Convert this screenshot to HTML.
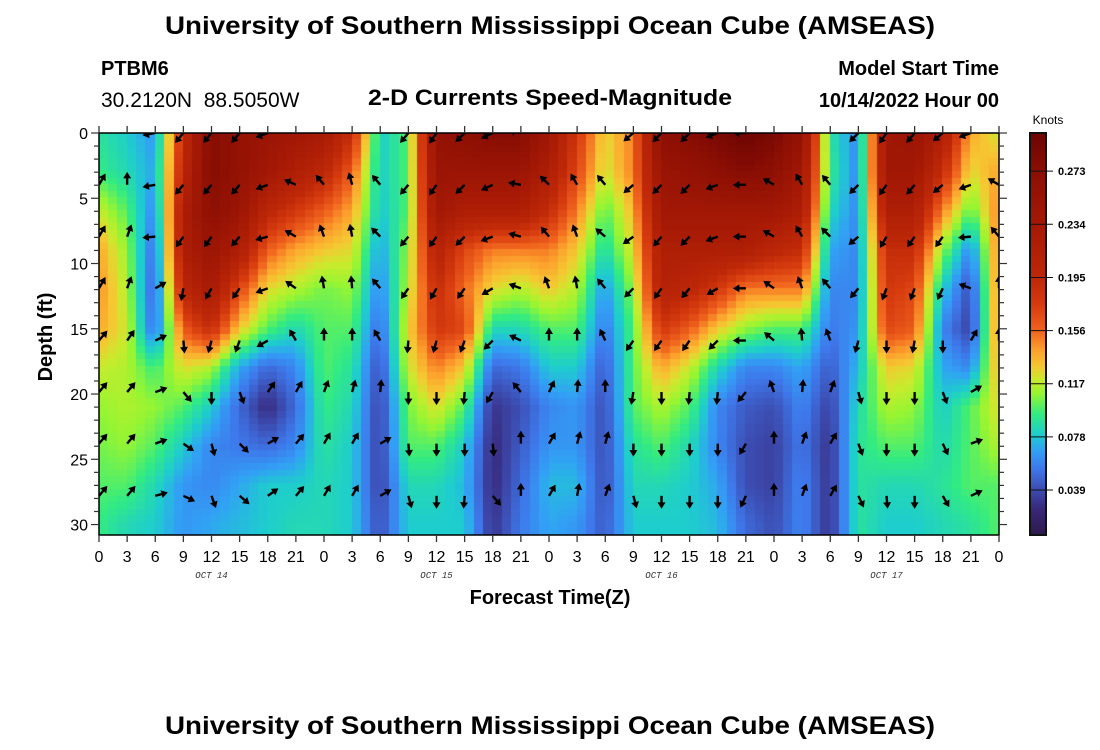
<!DOCTYPE html>
<html><head><meta charset="utf-8">
<style>
html,body{margin:0;padding:0;background:#fff;}
#wrap{position:relative;width:1100px;height:750px;overflow:hidden;font-family:"Liberation Sans",sans-serif;}
canvas{position:absolute;}
svg{position:absolute;left:0;top:0;}
</style></head>
<body>
<div id="wrap">
<canvas id="heat" width="900" height="402" style="left:99px;top:133px"></canvas>
<canvas id="cbar" width="16" height="402" style="left:1030px;top:133px"></canvas>
<svg id="svg" width="1100" height="750" xmlns="http://www.w3.org/2000/svg">
<text x="550" y="34" text-anchor="middle" font-size="25" font-weight="bold" textLength="770" lengthAdjust="spacingAndGlyphs">University of Southern Mississippi Ocean Cube (AMSEAS)</text>
<text x="550" y="734" text-anchor="middle" font-size="25" font-weight="bold" textLength="770" lengthAdjust="spacingAndGlyphs">University of Southern Mississippi Ocean Cube (AMSEAS)</text>
<text x="101" y="75" font-size="20" font-weight="bold">PTBM6</text>
<text x="101" y="107" font-size="21" xml:space="preserve">30.2120N  88.5050W</text>
<text x="550" y="105" text-anchor="middle" font-size="22" font-weight="bold" textLength="364" lengthAdjust="spacingAndGlyphs">2-D Currents Speed-Magnitude</text>
<text x="999" y="75" text-anchor="end" font-size="20" font-weight="bold">Model Start Time</text>
<text x="999" y="107" text-anchor="end" font-size="20" font-weight="bold">10/14/2022 Hour 00</text>
<text transform="translate(52,337) rotate(-90)" text-anchor="middle" font-size="20" font-weight="bold">Depth (ft)</text>
<text x="550" y="604" text-anchor="middle" font-size="20" font-weight="bold">Forecast Time(Z)</text>
<text x="1048" y="124" text-anchor="middle" font-size="12">Knots</text>
<g id="arrows"></g>
<g id="axes"></g>
</svg>
</div>
<script>
// ---- data ----
const hours = [0,3,6,9,12,15,18,21,24,27,30,33,36,39,42,45,48,51,54,57,60,63,66,69,72,75,78,81,84,87,90,93,96];
const depths = [0,3,6,9,12,15,18,21,24,27,30];
const speedByHour = [
[0.09,0.095,0.12,0.14,0.145,0.14,0.12,0.11,0.105,0.1,0.095],
[0.08,0.085,0.1,0.11,0.115,0.12,0.115,0.115,0.11,0.1,0.085],
[0.065,0.07,0.06,0.05,0.045,0.05,0.095,0.11,0.1,0.085,0.08],
[0.19,0.2,0.22,0.22,0.2,0.16,0.125,0.1,0.08,0.065,0.065],
[0.28,0.28,0.27,0.25,0.23,0.19,0.115,0.08,0.06,0.06,0.07],
[0.26,0.26,0.25,0.22,0.17,0.13,0.07,0.05,0.055,0.07,0.075],
[0.25,0.24,0.2,0.16,0.125,0.1,0.05,0.025,0.05,0.08,0.08],
[0.24,0.22,0.18,0.14,0.115,0.085,0.06,0.05,0.06,0.08,0.085],
[0.23,0.2,0.16,0.13,0.105,0.1,0.1,0.095,0.09,0.085,0.085],
[0.19,0.16,0.14,0.125,0.11,0.1,0.09,0.085,0.08,0.08,0.08],
[0.08,0.08,0.078,0.068,0.06,0.05,0.04,0.035,0.035,0.035,0.04],
[0.1,0.1,0.1,0.11,0.115,0.125,0.12,0.105,0.1,0.085,0.08],
[0.26,0.25,0.24,0.21,0.19,0.18,0.15,0.125,0.1,0.085,0.08],
[0.27,0.25,0.22,0.17,0.155,0.17,0.13,0.1,0.08,0.075,0.08],
[0.28,0.25,0.22,0.15,0.125,0.085,0.05,0.03,0.025,0.025,0.03],
[0.28,0.25,0.22,0.15,0.115,0.085,0.055,0.04,0.045,0.05,0.055],
[0.24,0.22,0.19,0.15,0.13,0.1,0.08,0.06,0.065,0.075,0.07],
[0.18,0.17,0.15,0.13,0.115,0.1,0.08,0.065,0.065,0.075,0.065],
[0.125,0.12,0.1,0.085,0.065,0.055,0.045,0.04,0.04,0.04,0.045],
[0.15,0.15,0.135,0.125,0.11,0.1,0.1,0.1,0.09,0.085,0.08],
[0.27,0.25,0.24,0.22,0.21,0.18,0.14,0.115,0.1,0.085,0.08],
[0.28,0.26,0.24,0.22,0.2,0.16,0.12,0.1,0.085,0.08,0.08],
[0.29,0.27,0.24,0.22,0.18,0.13,0.085,0.06,0.06,0.07,0.075],
[0.3,0.28,0.24,0.22,0.15,0.11,0.06,0.045,0.04,0.04,0.05],
[0.29,0.27,0.24,0.2,0.15,0.1,0.06,0.04,0.035,0.035,0.04],
[0.26,0.24,0.22,0.19,0.15,0.1,0.07,0.06,0.055,0.06,0.06],
[0.09,0.095,0.085,0.07,0.06,0.055,0.045,0.035,0.03,0.03,0.03],
[0.06,0.06,0.06,0.06,0.06,0.065,0.075,0.085,0.09,0.09,0.09],
[0.24,0.24,0.22,0.19,0.18,0.17,0.13,0.115,0.1,0.085,0.08],
[0.25,0.24,0.22,0.19,0.17,0.16,0.125,0.11,0.1,0.085,0.08],
[0.22,0.19,0.15,0.11,0.08,0.06,0.07,0.08,0.085,0.09,0.085],
[0.14,0.125,0.1,0.06,0.04,0.035,0.06,0.1,0.1,0.1,0.09],
[0.12,0.14,0.15,0.15,0.15,0.15,0.14,0.125,0.115,0.1,0.1]
];
const arrowDepths = [0,3.97,7.94,11.9,15.9,19.85,23.8,27.8];
const arrowBearings = [
[30,0,260,220,220,220,250,295,320,345,320,220,215,225,245,280,315,330,320,230,225,225,250,270,300,330,320,225,215,220,230,250,300],
[30,0,260,220,220,220,250,295,320,345,320,220,215,225,245,280,315,330,320,230,225,225,250,270,300,330,320,225,215,220,230,250,300],
[30,20,265,215,215,220,255,300,340,350,315,220,215,225,250,285,320,340,310,235,220,225,250,270,300,330,315,230,210,215,215,265,320],
[30,20,60,190,210,215,250,305,350,355,320,215,210,215,240,290,340,350,320,225,215,220,240,270,305,340,320,220,200,200,205,290,0],
[40,35,65,175,195,200,240,330,0,0,330,185,195,200,225,295,0,0,335,215,215,215,225,270,310,355,340,195,180,190,180,30,0],
[40,40,70,140,180,160,35,30,20,15,5,180,180,185,210,320,25,5,0,190,180,185,185,220,340,5,20,165,180,180,160,60,30],
[40,40,70,125,165,135,60,40,30,30,60,175,180,180,175,0,30,15,15,180,180,180,180,210,0,20,30,160,180,180,155,70,30],
[40,40,75,115,160,130,55,40,30,30,60,165,180,185,140,0,30,10,20,165,180,180,180,205,0,20,30,155,175,180,150,65,30]
];
const xTickLabels = ["0","3","6","9","12","15","18","21","0","3","6","9","12","15","18","21","0","3","6","9","12","15","18","21","0","3","6","9","12","15","18","21","0"];
const dayLabels = ["OCT 14","OCT 15","OCT 16","OCT 17"];
const yTickValues = [0,5,10,15,20,25,30];
const cbarTicks = [0.039,0.078,0.117,0.156,0.195,0.234,0.273];

// ---- scales ----
const X0=99, X1=999, Y0=133, Y1=535, HMAX=96, DMAX=30.8;
const xs = h => X0 + (h/HMAX)*(X1-X0);
const ys = d => Y0 + (d/DMAX)*(Y1-Y0);
const VMIN=0.006, VMAX=0.301;
const cy = v => Y0 + (VMAX-v)/(VMAX-VMIN)*(Y1-Y0);
const stops=[[0.006,[45,26,74]],[0.025,[56,40,120]],[0.039,[60,75,175]],[0.055,[62,120,235]],[0.068,[50,160,245]],[0.08,[30,205,205]],[0.095,[50,235,130]],[0.11,[150,245,50]],[0.12,[200,235,45]],[0.13,[245,200,50]],[0.142,[252,160,45]],[0.156,[240,100,30]],[0.175,[215,60,15]],[0.195,[190,40,8]],[0.234,[165,25,5]],[0.273,[140,15,4]],[0.30,[110,5,3]]];
function cmap(v){
  if(v<=stops[0][0]) return stops[0][1];
  for(let i=1;i<stops.length;i++){ if(v<=stops[i][0]){const a=stops[i-1],b=stops[i];const t=(v-a[0])/(b[0]-a[0]);return a[1].map((c,k)=>Math.round(c+(b[1][k]-c)*t));}}
  return stops[stops.length-1][1];
}
function lerpIdx(arr,v){ if(v<=arr[0])return [0,0,0]; const n=arr.length-1; if(v>=arr[n])return [n,n,0]; for(let i=1;i<=n;i++){if(v<=arr[i])return [i-1,i,(v-arr[i-1])/(arr[i]-arr[i-1])];} }
function speedAt(h,d){
  const [i0,i1,th]=lerpIdx(hours,h), [j0,j1,td]=lerpIdx(depths,d);
  const a=speedByHour[i0][j0]*(1-td)+speedByHour[i0][j1]*td;
  const b=speedByHour[i1][j0]*(1-td)+speedByHour[i1][j1]*td;
  return a*(1-th)+b*th;
}
// heatmap
const hc=document.getElementById('heat').getContext('2d');
const NH=96, ND=62;
for(let i=0;i<NH;i++){ for(let j=0;j<ND;j++){
  const h=(i+0.5)*HMAX/NH, d=(j+0.5)*DMAX/ND;
  const c=cmap(speedAt(h,d));
  hc.fillStyle=`rgb(${c[0]},${c[1]},${c[2]})`;
  const x0=xs(i*HMAX/NH)-X0, x1=xs((i+1)*HMAX/NH)-X0, y0=ys(j*DMAX/ND)-Y0, y1=ys((j+1)*DMAX/ND)-Y0;
  hc.fillRect(Math.floor(x0),Math.floor(y0),Math.ceil(x1-x0)+1,Math.ceil(y1-y0)+1);
}}
// colorbar
const cc=document.getElementById('cbar').getContext('2d');
for(let y=0;y<402;y++){const v=VMAX-(y/402)*(VMAX-VMIN);const c=cmap(v);cc.fillStyle=`rgb(${c[0]},${c[1]},${c[2]})`;cc.fillRect(0,y,16,1);}

const NS='http://www.w3.org/2000/svg';
function mk(tag,attrs,parent){const e=document.createElementNS(NS,tag);for(const k in attrs)e.setAttribute(k,attrs[k]);parent.appendChild(e);return e;}
const svg=document.getElementById('svg');
// arrows (tail anchored)
const ag=document.getElementById('arrows');
const defs=mk('defs',{},svg);
const clip=mk('clipPath',{id:'pc'},defs);
mk('rect',{x:X0,y:Y0,width:X1-X0,height:Y1-Y0},clip);
ag.setAttribute('clip-path','url(#pc)');
arrowDepths.forEach((d,r)=>{
  hours.forEach((h,c)=>{
    const b=arrowBearings[r][c]*Math.PI/180;
    const x=xs(h), y=ys(d), L=13;
    const dx=Math.sin(b), dy=-Math.cos(b);
    const tx=x+dx*L, ty=y+dy*L;
    const g=mk('g',{},ag);
    
    
    mk('line',{x1:x,y1:y,x2:x+dx*(L-5),y2:y+dy*(L-5),stroke:'#000','stroke-width':2.4},g);
    const px=-dy, py=dx, hb=6.5, hw=4;
    const bx=tx-dx*hb, by=ty-dy*hb;
    mk('polygon',{points:`${tx},${ty} ${bx+px*hw},${by+py*hw} ${bx-px*hw},${by-py*hw}`,fill:'#000'},g);
  });
});
// axes
const ax=document.getElementById('axes');
const frame=mk('rect',{x:X0,y:Y0,width:X1-X0,height:Y1-Y0,fill:'none',stroke:'#000','stroke-width':1.5},ax);


hours.forEach((h,i)=>{
  const x=xs(h);
  mk('line',{x1:x,y1:Y0,x2:x,y2:Y0-7,stroke:'#333','stroke-width':1.3},ax);
  mk('line',{x1:x,y1:Y1,x2:x,y2:Y1+7,stroke:'#333','stroke-width':1.3},ax);
  const t=mk('text',{x:x,y:562,'text-anchor':'middle','font-size':16},ax);
  t.textContent=xTickLabels[i];
  
  
});
dayLabels.forEach((s,i)=>{
  const t=mk('text',{x:xs(i*24+12),y:578,'text-anchor':'middle','font-size':9,'font-style':'italic','font-family':'Liberation Mono, monospace',fill:'#333'},ax);
  t.textContent=s;
  
  
});
for(let d=0;d<=30;d++){
  const y=ys(d), major=d%5===0;
  mk('line',{x1:X0,y1:y,x2:X0-(major?8:5),y2:y,stroke:'#333','stroke-width':1.2},ax);
  mk('line',{x1:X1,y1:y,x2:X1+(major?8:5),y2:y,stroke:'#333','stroke-width':1.2},ax);
}
yTickValues.forEach(v=>{
  const t=mk('text',{x:88,y:ys(v)+6,'text-anchor':'end','font-size':16},ax);
  t.textContent=String(v);
  
  
});
const cf=mk('rect',{x:1030,y:Y0,width:16,height:Y1-Y0,fill:'none',stroke:'#111','stroke-width':2},ax);


cbarTicks.forEach(v=>{
  const y=cy(v);
  mk('line',{x1:1030,y1:y,x2:1053,y2:y,stroke:'#111','stroke-width':1},ax);
  const t=mk('text',{x:1058,y:y+4,'font-size':11,'font-weight':'bold'},ax);
  t.textContent=v.toFixed(3);
  
  
});
</script>
</body></html>
